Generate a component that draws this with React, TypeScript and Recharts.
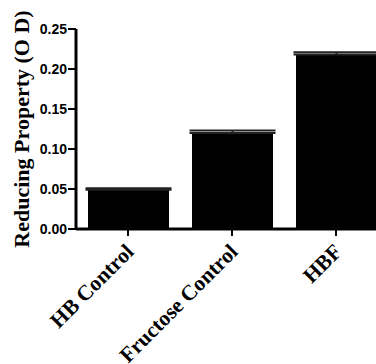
import React from 'react';
import { BarChart, Bar, XAxis, YAxis, ErrorBar, Label } from 'recharts';

const categories = ['HB Control', 'Fructose Control', 'HBF'];
const values = [0.049, 0.12, 0.218];
const errorsUp = [0.002, 0.003, 0.003];
const yTicks = [0, 0.05, 0.1, 0.15, 0.2, 0.25];

// only the upper whisker shows above the black bars
const data = categories.map((name, i) => ({ name, value: values[i], err: [0, errorsUp[i]] }));

const serif = '"Liberation Serif", "Times New Roman", serif';
const sans = '"Liberation Sans", Arial, sans-serif';

function XTick({ x, y, payload }: any) {
  const ax = x + 7;
  const ay = y + 15;
  return (
    <text
      x={ax}
      y={ay}
      transform={`rotate(-45 ${ax} ${ay})`}
      textAnchor="end"
      fontFamily={serif}
      fontWeight="bold"
      fontSize={21.5}
      fill="#000"
    >
      {payload.value}
    </text>
  );
}

function YLabel({ viewBox }: any) {
  const cx = 29;
  const cy = viewBox.y + viewBox.height / 2;
  return (
    <text
      x={cx}
      y={cy}
      transform={`rotate(-90 ${cx} ${cy})`}
      textAnchor="middle"
      fontFamily={serif}
      fontWeight="bold"
      fontSize={22}
      fill="#000"
    >
      Reducing Property (O D)
    </text>
  );
}

export default function App() {
  return (
    <div style={{ position: 'fixed', left: 0, top: 0, width: 376, height: 364, overflow: 'hidden', background: '#fff' }}>
      <BarChart width={400} height={364} data={data} margin={{ top: 29, right: 12, left: 0, bottom: 0 }} barSize={81}>
        <XAxis
          dataKey="name"
          height={135}
          axisLine={{ stroke: '#000', strokeWidth: 3 }}
          tickLine={{ stroke: '#000', strokeWidth: 2 }}
          tickSize={7}
          tickMargin={2}
          tick={<XTick />}
          interval={0}
        />
        <YAxis
          width={76}
          domain={[0, 0.25]}
          ticks={yTicks}
          tickFormatter={(v: number) => v.toFixed(2)}
          axisLine={{ stroke: '#000', strokeWidth: 3 }}
          tickLine={{ stroke: '#000', strokeWidth: 2 }}
          tickSize={8}
          tickMargin={1}
          tick={{ fill: '#000', fontFamily: sans, fontWeight: 'bold', fontSize: 14 }}
        >
          <Label content={<YLabel />} />
        </YAxis>
        <Bar dataKey="value" fill="#000" isAnimationActive={false}>
          <ErrorBar dataKey="err" width={43} stroke="#222" strokeWidth={2} direction="y" />
        </Bar>
      </BarChart>
    </div>
  );
}
